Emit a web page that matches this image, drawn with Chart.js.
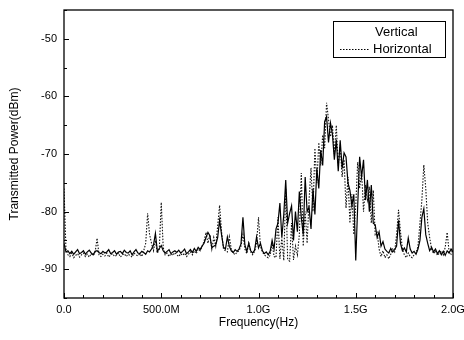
<!DOCTYPE html>
<html>
<head>
<meta charset="utf-8">
<script src="https://cdn.jsdelivr.net/npm/chart.js@4.4.1/dist/chart.umd.min.js"></script>
<style>
  html, body { margin: 0; padding: 0; background: #fff; }
  #wrap { width: 464px; height: 340px; }
</style>
</head>
<body>
<div id="wrap"><canvas id="spec" width="464" height="340"></canvas></div>
<script>
// frequency grid, 10 MHz steps (GHz)
const STEP_GHZ = 0.01;

// Vertical polarisation (solid), dBm
const vertical = [
  -85.5, -87.0, -86.8, -87.3, -86.9, -87.4, -87.0, -86.6, -87.3, -87.1,
  -86.8, -87.4, -87.0, -86.7, -87.2, -87.5, -86.9, -86.8, -87.1, -87.3,
  -86.9, -87.2, -87.0, -86.6, -87.3, -87.1, -86.8, -87.4, -87.0, -86.9,
  -87.3, -86.7, -87.1, -87.2, -86.8, -87.5, -87.0, -86.6, -87.2, -87.3,
  -86.9, -87.1, -87.4, -86.8, -87.0, -86.5, -85.8, -83.8, -86.9, -86.4,
  -85.9, -86.8, -87.2, -86.9, -86.6, -87.3, -87.0, -86.8, -87.1, -86.7,
  -87.2, -86.9, -86.5, -87.3, -87.0, -86.6, -87.1, -86.4, -86.9, -86.2,
  -86.6, -86.0, -85.5, -84.5, -83.6, -84.2, -86.3, -86.0, -85.8, -84.5,
  -81.5, -84.0, -86.2, -86.5, -84.4, -86.0, -86.8, -87.1, -86.6, -86.9,
  -86.5, -85.6, -81.0, -85.8, -86.9, -85.5, -86.8, -87.2, -86.7, -84.4,
  -86.3, -85.5, -86.8, -87.3, -87.0, -87.5, -86.9, -85.0, -86.5, -83.0,
  -82.0, -78.5, -84.5, -80.5, -74.5, -82.0, -80.3, -79.0, -85.0, -80.0,
  -83.5, -76.5, -81.0, -84.0, -74.0, -80.0, -79.2, -83.0, -76.0, -80.5,
  -72.5, -76.0, -69.3, -72.0, -64.4, -63.5, -68.0, -64.6, -66.5, -71.0,
  -67.5, -73.0, -67.6, -72.5, -69.8, -70.5, -75.0, -76.3, -79.0, -77.0,
  -88.5, -79.0, -70.5, -74.0, -71.0, -78.0, -74.5, -80.0, -75.4, -82.0,
  -82.3, -84.5, -83.5, -86.0, -85.2, -86.5, -86.9, -87.2, -86.4, -87.0,
  -86.6, -86.0, -81.5, -85.5, -86.8, -86.3, -87.0, -84.6, -86.5, -87.2,
  -86.9, -87.4, -86.5, -85.0, -81.0, -79.5, -84.0, -85.5, -86.8, -86.2,
  -87.0, -86.5, -87.3, -86.8, -87.5, -86.9, -87.6, -86.8, -87.2, -86.5,
  -87.0
];

// Horizontal polarisation (dotted), dBm
const horizontal = [
  -76.0, -86.5, -87.5, -87.8, -87.2, -88.0, -87.6, -87.3, -87.9, -87.5,
  -87.2, -87.8, -87.4, -87.9, -87.3, -87.6, -87.1, -84.6, -87.5, -87.8,
  -87.4, -87.7, -87.2, -87.9, -87.5, -87.3, -87.8, -87.6, -87.2, -87.9,
  -87.5, -87.3, -87.8, -87.4, -87.6, -87.9, -87.2, -87.5, -87.7, -87.3,
  -87.8, -86.8, -85.5, -80.3, -84.0, -85.5, -86.8, -85.0, -87.2, -86.5,
  -78.4, -86.2, -87.5, -87.2, -87.8, -87.3, -87.6, -87.1, -87.5, -87.8,
  -87.3, -87.6, -87.2, -87.8, -87.4, -87.0, -87.5, -86.8, -87.3, -86.5,
  -86.8, -86.0, -85.2, -83.6, -85.5, -84.0, -86.5, -84.5, -86.0, -82.5,
  -78.9, -83.5, -86.5, -86.8, -87.0, -84.4, -86.5, -87.2, -87.5, -87.0,
  -86.8, -86.0, -84.0, -86.5, -87.3, -85.5, -87.0, -87.5, -86.9, -85.5,
  -81.0, -86.0, -87.0, -87.5, -87.8, -88.0, -87.6, -85.5, -87.8, -88.0,
  -81.0, -88.2, -84.5, -88.5, -76.0, -88.3, -88.6, -82.0, -88.4, -86.0,
  -87.5, -84.0, -73.3, -86.0, -80.0, -85.5, -78.0, -72.4, -80.0, -69.0,
  -75.0, -68.0, -72.0, -66.7, -69.0, -61.1, -64.0, -67.0, -65.0, -70.0,
  -65.0, -72.0, -68.4, -74.0, -71.0, -79.4, -74.0, -82.0, -77.0, -84.0,
  -79.0, -71.4, -76.0, -73.0, -80.0, -75.4, -78.0, -75.7, -82.0, -76.3,
  -84.0, -83.6, -86.5, -87.8, -86.8, -88.0, -87.5, -88.2, -87.4, -86.5,
  -87.0, -84.0, -79.7, -83.5, -86.5, -87.5, -88.0, -87.2, -87.8, -88.0,
  -87.5, -87.2, -86.0, -82.0, -78.0, -71.9, -76.0, -82.0, -84.5, -86.5,
  -87.3, -86.8, -87.6, -87.2, -86.8, -87.5, -86.2, -83.6, -87.0, -87.4,
  -86.5
];

// tick labels on the frequency axis (GHz -> text)
const xTickValues = [0, 0.5, 1.0, 1.5, 2.0];
const xTickLabels = ["0.0", "500.0M", "1.0G", "1.5G", "2.0G"];
const yTickLabels = [-90, -80, -70, -60, -50];

const seriesNames = ["Vertical", "Horizontal"];

const toPoints = arr => arr.map((v, i) => ({ x: +(i * STEP_GHZ).toFixed(2), y: v }));

const FONT = "'Liberation Sans', Arial, sans-serif";

// inward ticks, frame and legend box
const framePlugin = {
  id: "frame",
  afterDraw(chart) {
    const { ctx, chartArea: a, scales } = chart;
    ctx.save();
    ctx.strokeStyle = "#000";
    ctx.lineWidth = 1.3;
    ctx.strokeRect(a.left, a.top, a.right - a.left, a.bottom - a.top);

    ctx.lineWidth = 1;
    ctx.beginPath();
    scales.x.ticks.forEach(t => {
      const px = Math.round(scales.x.getPixelForValue(t.value)) + 0.5;
      const major = Math.abs(t.value * 2 - Math.round(t.value * 2)) < 1e-6;
      const len = major ? 5 : 3;
      ctx.moveTo(px, a.bottom);
      ctx.lineTo(px, a.bottom - len);
    });
    scales.y.ticks.forEach(t => {
      const py = Math.round(scales.y.getPixelForValue(t.value)) + 0.5;
      const major = t.value % 10 === 0;
      const len = major ? 5 : 3;
      ctx.moveTo(a.left, py);
      ctx.lineTo(a.left + len, py);
    });
    ctx.stroke();

    // legend
    const bx = a.right - 120, by = a.top + 11, bw = 112, bh = 36;
    ctx.lineWidth = 1;
    ctx.strokeRect(bx + 0.5, by + 0.5, bw, bh);
    ctx.fillStyle = "#000";
    ctx.font = "13px " + FONT;
    ctx.textBaseline = "middle";
    ctx.textAlign = "left";
    ctx.fillText(seriesNames[0], bx + 42, by + 11);
    ctx.fillText(seriesNames[1], bx + 40, by + 28);
    ctx.setLineDash([1.5, 1.5]);
    ctx.beginPath();
    ctx.moveTo(bx + 7, by + 28.5);
    ctx.lineTo(bx + 37, by + 28.5);
    ctx.stroke();
    ctx.restore();
  }
};

new Chart(document.getElementById("spec"), {
  type: "line",
  data: {
    datasets: [
      {
        label: seriesNames[0],
        data: toPoints(vertical),
        borderColor: "#000",
        borderWidth: 1.2,
        pointRadius: 0,
        tension: 0,
      },
      {
        label: seriesNames[1],
        data: toPoints(horizontal),
        borderColor: "#111",
        borderWidth: 1.1,
        borderDash: [1.5, 1.5],
        pointRadius: 0,
        tension: 0,
      },
    ],
  },
  options: {
    responsive: false,
    animation: false,
    events: [],
    layout: { padding: { top: 10, right: 11, left: 0, bottom: 0 } },
    plugins: { legend: { display: false }, tooltip: { enabled: false } },
    scales: {
      x: {
        type: "linear",
        min: 0,
        max: 2.0,
        grid: { display: false, drawTicks: false },
        border: { display: false },
        ticks: {
          stepSize: 0.1,
          autoSkip: false,
          maxRotation: 0,
          padding: 5,
          color: "#000",
          font: { family: FONT, size: 11 },
          callback: v => {
            const k = xTickValues.findIndex(t => Math.abs(t - v) < 1e-6);
            return k >= 0 ? xTickLabels[k] : "";
          },
        },
        title: {
          display: true,
          text: "Frequency(Hz)",
          color: "#000",
          font: { family: FONT, size: 12 },
          padding: { top: 0, bottom: 10 },
        },
        afterFit: s => { s.height = 42; s.paddingLeft = 0; s.paddingRight = 0; },
      },
      y: {
        min: -95,
        max: -45,
        grid: { display: false, drawTicks: false },
        border: { display: false },
        ticks: {
          stepSize: 5,
          padding: 7,
          color: "#000",
          font: { family: FONT, size: 11 },
          callback: v => (yTickLabels.includes(v) ? String(v) : ""),
        },
        title: {
          display: true,
          text: "Transmitted Power(dBm)",
          color: "#000",
          font: { family: FONT, size: 12 },
          padding: { top: 7, bottom: 0 },
        },
        afterFit: s => { s.width = 64; s.paddingTop = 0; s.paddingBottom = 0; },
      },
    },
  },
  plugins: [framePlugin],
});
</script>
</body>
</html>
